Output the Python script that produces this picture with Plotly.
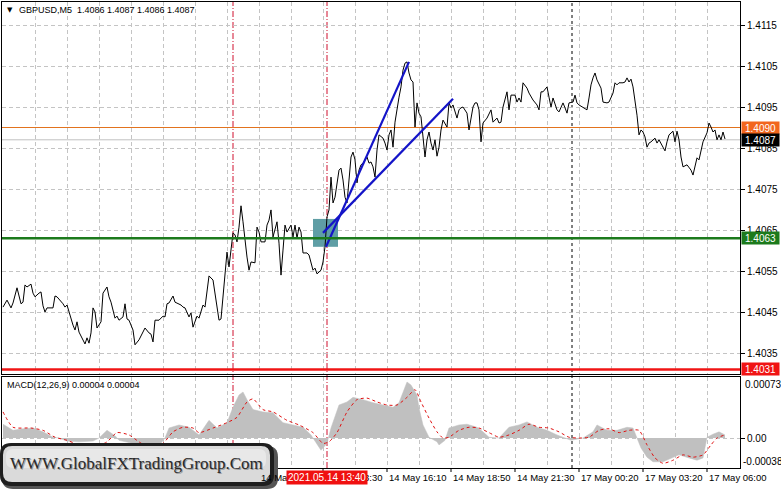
import plotly.graph_objects as go

# ---------------- data ----------------
# (bar index, close) for GBPUSD M5
price_points = [
    (0, 1.40462), (2, 1.40479), (4, 1.40460), (5, 1.40472), (7, 1.40509), (8, 1.40491), (9, 1.40470),
    (10, 1.40474), (11, 1.40516), (12, 1.40511), (14, 1.40518), (15, 1.40496), (16, 1.40487), (18, 1.40496),
    (19, 1.40499), (20, 1.40465), (21, 1.40450), (22, 1.40460), (25, 1.40460), (26, 1.40489), (27, 1.40487),
    (30, 1.40470), (31, 1.40462), (32, 1.40467), (33, 1.40450), (35, 1.40418), (36, 1.40406), (37, 1.40426),
    (38, 1.40401), (40, 1.40382), (41, 1.40372), (42, 1.40387), (43, 1.40374), (44, 1.40399), (45, 1.40460),
    (46, 1.40450), (47, 1.40411), (49, 1.40426), (50, 1.40496), (52, 1.40511), (53, 1.40487), (54, 1.40474),
    (56, 1.40435), (57, 1.40440), (58, 1.40430), (60, 1.40438), (61, 1.40470), (62, 1.40433), (63, 1.40430),
    (65, 1.40406), (66, 1.40370), (68, 1.40382), (70, 1.40401), (71, 1.40411), (73, 1.40399), (74, 1.40396),
    (75, 1.40377), (76, 1.40430), (78, 1.40430), (80, 1.40440), (81, 1.40438), (82, 1.40470), (83, 1.40472),
    (85, 1.40489), (86, 1.40474), (87, 1.40472), (89, 1.40467), (90, 1.40462), (91, 1.40460), (93, 1.40438),
    (94, 1.40448), (95, 1.40413), (97, 1.40440), (98, 1.40435), (100, 1.40467), (101, 1.40462), (102, 1.40496),
    (103, 1.40538), (105, 1.40528), (106, 1.40491), (107, 1.40460), (108, 1.40430), (109, 1.40433), (110, 1.40487),
    (111, 1.40545), (112, 1.40596), (113, 1.40560), (114, 1.40601), (115, 1.40643), (116, 1.40638), (117, 1.40621),
    (118, 1.40657), (119, 1.40709), (120, 1.40670), (121, 1.40618), (122, 1.40584), (123, 1.40552), (124, 1.40572),
    (126, 1.40570), (127, 1.40657), (128, 1.40645), (129, 1.40621), (131, 1.40621), (132, 1.40662), (133, 1.40674),
    (134, 1.40699), (135, 1.40633), (136, 1.40650), (137, 1.40670), (138, 1.40618), (139, 1.40540), (140, 1.40601),
    (141, 1.40662), (142, 1.40645), (144, 1.40662), (145, 1.40633), (146, 1.40662), (147, 1.40630), (148, 1.40657),
    (149, 1.40645), (150, 1.40594), (152, 1.40594), (153, 1.40589), (155, 1.40552), (156, 1.40557), (157, 1.40543),
    (159, 1.40552), (160, 1.40572), (161, 1.40609), (162, 1.40682), (163, 1.40699), (164, 1.40779), (165, 1.40716),
    (166, 1.40730), (167, 1.40765), (168, 1.40796), (169, 1.40801), (170, 1.40772), (171, 1.40730), (172, 1.40716),
    (174, 1.40828), (175, 1.40840), (176, 1.40821), (177, 1.40765), (178, 1.40796), (179, 1.40809), (180, 1.40813),
    (182, 1.40828), (183, 1.40813), (184, 1.40816), (185, 1.40804), (186, 1.40779), (187, 1.40845), (188, 1.40882),
    (190, 1.40874), (191, 1.40862), (192, 1.40845), (193, 1.40882), (194, 1.40894), (195, 1.40852), (196, 1.40913),
    (197, 1.40950), (198, 1.40974), (199, 1.40999), (200, 1.41040), (201, 1.41057), (202, 1.41060), (203, 1.41033),
    (204, 1.41016), (205, 1.41011), (206, 1.40901), (207, 1.40960), (208, 1.40935), (209, 1.40926), (210, 1.40882),
    (211, 1.40828), (212, 1.40870), (213, 1.40889), (214, 1.40862), (215, 1.40845), (216, 1.40870), (217, 1.40830),
    (218, 1.40852), (219, 1.40894), (220, 1.40918), (222, 1.40901), (223, 1.40960), (224, 1.40948), (225, 1.40955),
    (227, 1.40923), (228, 1.40943), (229, 1.40948), (230, 1.40950), (232, 1.40935), (233, 1.40894), (234, 1.40923),
    (235, 1.40950), (236, 1.40960), (237, 1.40960), (238, 1.40943), (239, 1.40865), (240, 1.40911), (242, 1.40923),
    (244, 1.40943), (245, 1.40913), (247, 1.40923), (248, 1.40911), (249, 1.40913), (250, 1.40950), (252, 1.40987),
    (253, 1.40943), (254, 1.40979), (256, 1.40979), (257, 1.40962), (258, 1.40972), (259, 1.40962), (260, 1.41009),
    (262, 1.40996), (263, 1.40984), (265, 1.40967), (267, 1.40955), (268, 1.40943), (269, 1.40987), (270, 1.40987),
    (272, 1.40999), (273, 1.40974), (274, 1.40950), (275, 1.40972), (276, 1.40955), (277, 1.40943), (278, 1.40938),
    (280, 1.40960), (281, 1.40948), (282, 1.40935), (283, 1.40960), (285, 1.40962), (286, 1.40979), (287, 1.40960),
    (288, 1.40955), (290, 1.40950), (292, 1.40943), (293, 1.40972), (294, 1.41004), (295, 1.41021), (296, 1.41033),
    (297, 1.41016), (299, 1.40996), (300, 1.40962), (302, 1.40960), (303, 1.40962), (305, 1.40984), (306, 1.41009),
    (307, 1.41004), (308, 1.41009), (310, 1.41009), (311, 1.41011), (312, 1.41021), (313, 1.41011), (314, 1.41018),
    (315, 1.40999), (316, 1.40967), (317, 1.40930), (318, 1.40882), (319, 1.40894), (320, 1.40889), (321, 1.40877),
    (322, 1.40852), (323, 1.40862), (324, 1.40865), (326, 1.40874), (327, 1.40862), (328, 1.40870), (330, 1.40852),
    (331, 1.40843), (332, 1.40865), (333, 1.40882), (335, 1.40891), (336, 1.40865), (337, 1.40891), (338, 1.40870),
    (339, 1.40828), (340, 1.40804), (342, 1.40809), (343, 1.40801), (344, 1.40796), (345, 1.40784), (346, 1.40809),
    (347, 1.40826), (348, 1.40821), (349, 1.40848), (350, 1.40865), (352, 1.40887), (353, 1.40911), (354, 1.40901),
    (355, 1.40889), (356, 1.40894), (357, 1.40870), (358, 1.40882), (359, 1.40870), (360, 1.40889), (361, 1.40872),
]
bars = [b for b, _ in price_points]
close = [c for _, c in price_points]

# MACD(12,26,9) histogram (main line) and signal
macd_points = [
    (0, 0.00018), (5, 0.00010), (10, 0.00012), (15, 0.00013), (20, 0.00008), (25, 0.00001), (28, 0.0),
    (32, -0.00004), (38, -0.00005), (45, -0.00004), (48, 0.0), (52, 0.00010), (56, 0.00003), (58, -0.00003),
    (63, -0.00006), (68, -0.00010), (73, -0.00013), (78, -0.00010), (81, 0.0), (83, 0.00013), (88, 0.00017),
    (93, 0.00014), (98, 0.00004), (103, 0.00023), (107, 0.00013), (112, 0.00020), (115, 0.00040), (118, 0.00056),
    (120, 0.00060), (122, 0.00050), (125, 0.00037), (130, 0.00034), (135, 0.00033), (140, 0.00020), (145, 0.00017),
    (150, 0.00014), (154, 0.00004), (157, -0.00009), (159, -0.00016), (162, -0.00007), (164, 0.00013),
    (168, 0.00043), (172, 0.00047), (175, 0.00053), (180, 0.00050), (185, 0.00046), (190, 0.00043), (195, 0.00040),
    (198, 0.00046), (201, 0.00065), (202, 0.00073), (204, 0.00069), (207, 0.00056), (208, 0.00039), (210, 0.00017),
    (213, 0.00001), (217, -0.00005), (218, -0.00009), (221, -0.00003), (223, 0.00013), (228, 0.00017),
    (232, 0.00018), (237, 0.00014), (240, 0.00008), (243, 0.00001), (248, 0.0), (253, 0.00014), (258, 0.00017),
    (262, 0.00021), (267, 0.00014), (272, 0.00010), (277, 0.00004), (280, 0.00001), (284, -0.00003), (290, 0.0),
    (295, 0.00008), (297, 0.00017), (302, 0.00010), (307, 0.00010), (312, 0.00014), (315, 0.00013), (317, 0.00001),
    (319, -0.00013), (322, -0.00025), (325, -0.00031), (330, -0.00031), (335, -0.00025), (338, -0.00022),
    (343, -0.00026), (347, -0.00029), (350, -0.00026), (352, 0.00001), (355, 0.00005), (358, 0.00008), (361, 0.00004),
]
macd_bars = [b for b, _ in macd_points]
macd_vals = [v for _, v in macd_points]

signal_points = [
    (0, 0.00034), (5, 0.00014), (14, 0.00013), (20, 0.00010), (26, 0.00001), (32, -0.00003), (38, -0.00009),
    (45, -0.00013), (52, -0.00005), (57, 0.00007), (63, 0.00004), (68, -0.00005), (73, -0.00012), (80, -0.00007),
    (85, 0.00008), (90, 0.00014), (95, 0.00013), (98, 0.00007), (105, 0.00013), (112, 0.00020), (117, 0.00027),
    (122, 0.00047), (125, 0.00051), (130, 0.00037), (135, 0.00034), (142, 0.00023), (148, 0.00017), (155, 0.00007),
    (160, -0.00007), (163, -0.00005), (167, 0.00007), (172, 0.00034), (177, 0.00050), (182, 0.00052),
    (187, 0.00047), (192, 0.00043), (197, 0.00043), (202, 0.00053), (206, 0.00063), (209, 0.00047), (213, 0.00026),
    (217, 0.00008), (220, 0.0), (223, 0.00001), (228, 0.00010), (233, 0.00014), (238, 0.00013), (243, 0.00007),
    (248, 0.00001), (253, 0.00004), (258, 0.00010), (263, 0.00018), (268, 0.00014), (273, 0.00013), (278, 0.00008),
    (283, 0.00001), (288, 0.0), (293, 0.00001), (298, 0.00010), (303, 0.00012), (308, 0.00007), (313, 0.00010),
    (318, 0.00010), (322, -0.00009), (326, -0.00026), (330, -0.00033), (335, -0.00029), (340, -0.00022),
    (345, -0.00025), (350, -0.00022), (354, -0.00009), (357, 0.0), (361, 0.00004),
]
signal_bars = [b for b, _ in signal_points]
signal_vals = [v for _, v in signal_points]

# drawn objects
trend1_bars = [161.5, 203]
trend1_prices = [1.40609, 1.41060]
trend2_bars = [160, 225]
trend2_prices = [1.40643, 1.40970]
zone_bars = [155, 167.5]
zone_prices = [1.40609, 1.40677]
vline_red_bars = [115, 162]
day_sep_bar = 284.5

level_resist = 1.4090
level_bid = 1.4087
level_entry = 1.4063
level_support = 1.4031

price_ticks = [1.4035, 1.4045, 1.4055, 1.4065, 1.4075, 1.4085, 1.4095, 1.4105, 1.4115]
price_tick_text = ["1.4035", "1.4045", "1.4055", "1.4065", "1.4075", "1.4085", "1.4095", "1.4105", "1.4115"]

time_label_bars = [128, 160, 192, 224, 256, 288, 320, 352]
time_labels = ["14 May 10:50", "14 May 13:30", "14 May 16:10", "14 May 18:50", "14 May 21:30",
               "17 May 00:20", "17 May 03:20", "17 May 06:00"]
grid_bars = list(range(16, 353, 16))

title_text = "GBPUSD,M5  1.4086 1.4087 1.4086 1.4087"
macd_text = "MACD(12,26,9) 0.00004 0.00004"
cursor_time = "2021.05.14 13:40"
cursor_bar = 162
logo_text = "WWW.GlobalFXTradingGroup.Com"

# ---------------- layout helpers ----------------
FIG_W, FIG_H = 781, 489
L, R, T, B = 2, 740, 2, 468


def px(x):
    return (x - L) / (R - L)


def py(y):
    return (B - y) / (B - T)


FONT = "Liberation Sans, Arial, sans-serif"
SERIF = "Liberation Serif, Times New Roman, serif"
GRID = "#C4C4C4"

fig = go.Figure()

fig.add_trace(go.Scatter(x=bars, y=close, mode="lines", line=dict(color="black", width=1),
                         xaxis="x", yaxis="y", hoverinfo="skip"))
for tb, tp in [(trend1_bars, trend1_prices), (trend2_bars, trend2_prices)]:
    fig.add_trace(go.Scatter(x=tb, y=tp, mode="lines", line=dict(color="#1414C8", width=2.2),
                             xaxis="x", yaxis="y", hoverinfo="skip"))
fig.add_trace(go.Scatter(x=macd_bars, y=macd_vals, mode="lines", fill="tozeroy",
                         fillcolor="#C0C0C0", line=dict(color="#C0C0C0", width=0.5),
                         xaxis="x2", yaxis="y2", hoverinfo="skip"))
fig.add_trace(go.Scatter(x=signal_bars, y=signal_vals, mode="lines",
                         line=dict(color="#E01010", width=1, dash="dot", shape="spline", smoothing=0.6),
                         xaxis="x2", yaxis="y2", hoverinfo="skip"))

main_dom = [py(374), 1]
macd_dom = [0, py(377)]
yr_main = [1.4115 - (374 - 25) / 41 * 0.001, 1.4115 + (25 - 2) / 41 * 0.001]
yr_macd = [-(468 - 438) / 76.7 * 0.001, (438 - 377) / 76.7 * 0.001]
xr = [-0.5, 368.5]

axis_common = dict(showline=True, mirror=True, linecolor="black", linewidth=1, zeroline=False,
                   gridcolor=GRID, griddash="4px,3px", gridwidth=1, automargin=False)

fig.update_layout(
    width=FIG_W, height=FIG_H,
    margin=dict(l=L, r=FIG_W - R, t=T, b=FIG_H - B, autoexpand=False),
    paper_bgcolor="white", plot_bgcolor="white",
    showlegend=False,
    font=dict(family=FONT, size=10, color="black"),
    xaxis=dict(domain=[0, 1], range=xr, anchor="y", tickvals=grid_bars, showticklabels=False,
               showgrid=True, ticks="", **axis_common),
    yaxis=dict(domain=main_dom, range=yr_main, side="right", anchor="x", tickvals=price_ticks,
               ticktext=price_tick_text, ticks="outside", ticklen=4, tickcolor="black",
               showgrid=True, tickfont=dict(size=10, family=FONT), **axis_common),
    xaxis2=dict(domain=[0, 1], range=xr, anchor="y2", matches="x", tickvals=grid_bars,
                showticklabels=False, ticks="", showgrid=True, **axis_common),
    yaxis2=dict(domain=macd_dom, range=yr_macd, side="right", anchor="x2", tickvals=[0],
                ticktext=["0.00"], ticks="outside", ticklen=4, tickcolor="black", showgrid=True,
                tickfont=dict(size=10, family=FONT), **axis_common),
)


def rrect(x0, y0, x1, y1, r):
    # rounded rectangle path in paper coords, from pixel coordinates
    def P(x, y):
        return f"{px(x):.5f},{py(y):.5f}"
    return (f"M {P(x0 + r, y0)} L {P(x1 - r, y0)} Q {P(x1, y0)} {P(x1, y0 + r)} "
            f"L {P(x1, y1 - r)} Q {P(x1, y1)} {P(x1 - r, y1)} L {P(x0 + r, y1)} "
            f"Q {P(x0, y1)} {P(x0, y1 - r)} L {P(x0, y0 + r)} Q {P(x0, y0)} {P(x0 + r, y0)} Z")


shapes = []
# zone box
shapes.append(dict(type="rect", xref="x", yref="y", x0=zone_bars[0], x1=zone_bars[1],
                   y0=zone_prices[0], y1=zone_prices[1], fillcolor="#5F9EA5", line=dict(width=0),
                   layer="between"))
# horizontal levels
shapes.append(dict(type="line", xref="paper", yref="y", x0=0, x1=1, y0=level_bid, y1=level_bid,
                   line=dict(color="#C0C0C0", width=1), layer="between"))
shapes.append(dict(type="line", xref="paper", yref="y", x0=0, x1=1, y0=level_resist, y1=level_resist,
                   line=dict(color="#E2731E", width=1), layer="between"))
shapes.append(dict(type="line", xref="paper", yref="y", x0=0, x1=1, y0=level_entry, y1=level_entry,
                   line=dict(color="#1C7A1C", width=2.5)))
shapes.append(dict(type="line", xref="paper", yref="y", x0=0, x1=1, y0=level_support, y1=level_support,
                   line=dict(color="#F01414", width=2.5)))
# vertical lines
for vb in vline_red_bars:
    shapes.append(dict(type="line", xref="x", yref="paper", x0=vb, x1=vb, y0=0, y1=1,
                       line=dict(color="#D0102E", width=1, dash="6px,2px,1px,2px"), layer="between"))
shapes.append(dict(type="line", xref="x", yref="paper", x0=day_sep_bar, x1=day_sep_bar, y0=0, y1=1,
                   line=dict(color="black", width=1, dash="3px,3px"), layer="between"))
# time-axis tick marks under the MACD panel
for tb in time_label_bars:
    shapes.append(dict(type="line", xref="x2", yref="paper", x0=tb, x1=tb, y0=0, y1=py(472),
                       line=dict(color="black", width=1)))
# logo plate
shapes += [
    dict(type="path", xref="paper", yref="paper", path=rrect(2, 446, 278, 489, 11),
         fillcolor="#555555", line=dict(width=0), layer="above"),
    dict(type="path", xref="paper", yref="paper", path=rrect(0, 443, 274, 486, 11),
         fillcolor="#1E1E1E", line=dict(width=0), layer="above"),
    dict(type="path", xref="paper", yref="paper", path=rrect(3, 446, 270, 482, 9),
         fillcolor="#DADADA", line=dict(width=0), layer="above"),
    dict(type="path", xref="paper", yref="paper", path=rrect(6, 449, 266, 468, 7),
         fillcolor="#E8E8E8", line=dict(width=0), layer="above"),
]

ann = []
# time labels, left-aligned just after their tick
for tb, tl in zip(time_label_bars, time_labels):
    ann.append(dict(xref="x2", x=tb, xanchor="left", xshift=0, yref="paper", y=py(477),
                    yanchor="middle", text=tl, showarrow=False, font=dict(size=9.5, family=FONT)))
# cursor time box
ann.append(dict(xref="x2", x=cursor_bar, yref="paper", y=py(477), xanchor="center", yanchor="middle",
                text=cursor_time, showarrow=False, bgcolor="#F01010",
                font=dict(color="white", size=10, family=FONT), borderpad=1))
# level labels on the price scale
for lv, bg, txt in [(level_resist, "#F2661E", "1.4090"), (level_bid, "#000000", "1.4087"),
                    (level_entry, "#1C7A1C", "1.4063"), (level_support, "#F01414", "1.4031")]:
    ann.append(dict(xref="paper", x=1, xanchor="left", xshift=1, yref="y", y=lv, yanchor="middle",
                    text=txt, showarrow=False, bgcolor=bg, font=dict(color="white", size=10, family=FONT),
                    width=37, height=12, borderpad=0, align="center"))
# MACD scale labels
ann.append(dict(xref="paper", x=1, xanchor="left", xshift=3, yref="paper", y=py(384), yanchor="middle",
                text="0.00073", showarrow=False, font=dict(size=10, family=FONT)))
ann.append(dict(xref="paper", x=1, xanchor="left", xshift=1, yref="paper", y=py(461), yanchor="middle",
                text="-0.00038", showarrow=False, font=dict(size=10, family=FONT)))
# titles
ann.append(dict(xref="paper", yref="paper", x=px(5), y=py(10), xanchor="left", yanchor="middle",
                text="▼", showarrow=False, font=dict(size=7, family="DejaVu Sans")))
ann.append(dict(xref="paper", yref="paper", x=px(17), y=py(10), xanchor="left", yanchor="middle",
                text=title_text, showarrow=False, font=dict(size=9, family=FONT)))
ann.append(dict(xref="paper", yref="paper", x=px(5), y=py(385), xanchor="left", yanchor="middle",
                text=macd_text, showarrow=False, font=dict(size=9, family=FONT)))
# logo text
ann.append(dict(xref="paper", yref="paper", x=px(137.5), y=py(464), xanchor="center", yanchor="middle",
                text=logo_text, showarrow=False, font=dict(size=17, family=SERIF, color="#9A9A9A")))
ann.append(dict(xref="paper", yref="paper", x=px(136.5), y=py(463), xanchor="center", yanchor="middle",
                text=logo_text, showarrow=False, font=dict(size=17, family=SERIF, color="#2A2A2A")))

fig.update_layout(shapes=shapes, annotations=ann)

fig.write_html("out.html", config={"displayModeBar": False},
               post_script="document.body.style.margin='0';document.body.style.overflow='hidden';")
